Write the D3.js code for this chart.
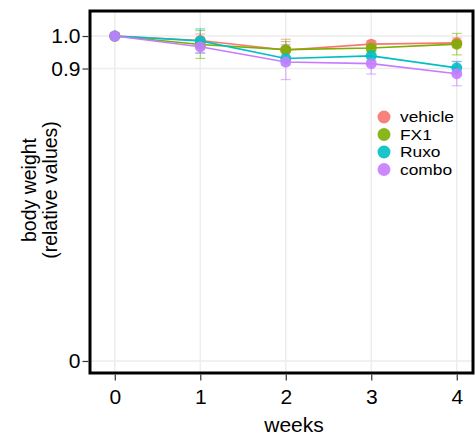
<!DOCTYPE html>
<html>
<head>
<meta charset="utf-8">
<script src="https://cdn.jsdelivr.net/npm/d3@7"></script>
<style>
  html, body { margin: 0; padding: 0; background: #fff; }
  svg { display: block; font-family: "Liberation Sans", Arial, sans-serif; }
</style>
</head>
<body>
<svg id="chart" width="476" height="439"></svg>
<script>
// Body weight over time per treatment group
const weeks = [0, 1, 2, 3, 4];
const groups = ["vehicle", "FX1", "Ruxo", "combo"];
const colors = ["#F8766D", "#7CAE00", "#00BFC4", "#C77CFF"];

const vehicleMean = [1.0, 0.986, 0.957, 0.975, 0.979];
const fx1Mean     = [1.0, 0.974, 0.958, 0.963, 0.975];
const ruxoMean    = [1.0, 0.985, 0.931, 0.939, 0.902];
const comboMean   = [1.0, 0.967, 0.920, 0.915, 0.884];

const vehicleErr = [0, 0.02, 0.033, 0.01, 0.015];
const fx1Err     = [0, 0.043, 0.025, 0.01, 0.033];
const ruxoErr    = [0, 0.037, 0.02, 0.015, 0.02];
const comboErr   = [0, 0.02, 0.054, 0.032, 0.037];

const yTicks = [0, 0.9, 1.0];
const yTickLabels = ["0", "0.9", "1.0"];

const means = [vehicleMean, fx1Mean, ruxoMean, comboMean];
const errs = [vehicleErr, fx1Err, ruxoErr, comboErr];

const series = groups.map((g, i) => ({
  name: g,
  color: colors[i],
  values: weeks.map((w, j) => ({ week: w, mean: means[i][j], err: errs[i][j] }))
}));

const svg = d3.select("#chart");
const panel = { left: 90, right: 473, top: 11, bottom: 373 };

const x = d3.scaleLinear().domain([-0.29, 4.19]).range([panel.left, panel.right]);
const y = d3.scaleLinear().domain([-0.037, 1.077]).range([panel.bottom, panel.top]);

// grid lines
const grid = svg.append("g");
grid.selectAll("line.vx").data(weeks).join("line")
  .attr("x1", d => x(d)).attr("x2", d => x(d))
  .attr("y1", panel.top).attr("y2", panel.bottom)
  .attr("stroke", "#ededed").attr("stroke-width", 1.5);
grid.selectAll("line.hy").data(yTicks).join("line")
  .attr("x1", panel.left).attr("x2", panel.right)
  .attr("y1", d => y(d)).attr("y2", d => y(d))
  .attr("stroke", "#ededed").attr("stroke-width", 1.5);

// error bars
const errG = svg.append("g");
series.forEach(s => {
  const g = errG.append("g").attr("stroke", s.color).attr("stroke-opacity", 0.55).attr("stroke-width", 1.2);
  s.values.filter(d => d.err > 0).forEach(d => {
    g.append("line").attr("x1", x(d.week)).attr("x2", x(d.week))
      .attr("y1", y(d.mean - d.err)).attr("y2", y(d.mean + d.err));
    [d.mean - d.err, d.mean + d.err].forEach(v => {
      g.append("line").attr("x1", x(d.week) - 5).attr("x2", x(d.week) + 5)
        .attr("y1", y(v)).attr("y2", y(v));
    });
  });
});

// lines
const line = d3.line().x(d => x(d.week)).y(d => y(d.mean));
svg.append("g").selectAll("path").data(series).join("path")
  .attr("d", s => line(s.values))
  .attr("fill", "none")
  .attr("stroke", s => s.color)
  .attr("stroke-width", 1.6);

// points
svg.append("g").selectAll("g").data(series).join("g")
  .attr("fill", s => s.color)
  .selectAll("circle").data(s => s.values).join("circle")
  .attr("cx", d => x(d.week)).attr("cy", d => y(d.mean)).attr("r", 5.5)
  .attr("fill-opacity", 0.9);

// panel frame
svg.append("rect")
  .attr("x", panel.left).attr("y", panel.top)
  .attr("width", panel.right - panel.left).attr("height", panel.bottom - panel.top)
  .attr("fill", "none").attr("stroke", "#000").attr("stroke-width", 3);

// axes
const xAxis = d3.axisBottom(x).tickValues(weeks).tickFormat(d3.format("d")).tickSize(6).tickPadding(9);
const xg = svg.append("g").attr("transform", `translate(0,${panel.bottom + 1.5})`).call(xAxis);
xg.select(".domain").remove();
xg.selectAll(".tick line").attr("stroke", "#333").attr("stroke-width", 1.2);
xg.selectAll(".tick text").attr("font-size", 21).attr("fill", "#000")
  .attr("font-family", "Liberation Sans, Arial, sans-serif");

const yAxis = d3.axisLeft(y).tickValues(yTicks).tickFormat((d, i) => yTickLabels[i]).tickSize(6).tickPadding(2);
const yg = svg.append("g").attr("transform", `translate(${panel.left - 1.5},0)`).call(yAxis);
yg.select(".domain").remove();
yg.selectAll(".tick line").attr("stroke", "#333").attr("stroke-width", 1.2);
yg.selectAll(".tick text").attr("font-size", 21).attr("fill", "#000")
  .attr("font-family", "Liberation Sans, Arial, sans-serif");

// axis titles
svg.append("text").attr("x", 294).attr("y", 432)
  .attr("text-anchor", "middle").attr("font-size", 21).text("weeks");
const yt = svg.append("text")
  .attr("transform", `translate(0,190) rotate(-90)`)
  .attr("text-anchor", "middle").attr("font-size", 19.5);
yt.append("tspan").attr("x", 0).attr("y", 36).text("body weight");
yt.append("tspan").attr("x", 0).attr("y", 57).text("(relative values)");

// legend
const legend = svg.append("g").attr("transform", "translate(384,117)");
const items = legend.selectAll("g").data(series).join("g")
  .attr("transform", (d, i) => `translate(0,${i * 17.5})`);
items.append("circle").attr("r", 6.5).attr("fill", d => d.color).attr("fill-opacity", 0.9);
items.append("text").attr("x", 16).attr("y", 0).attr("dy", "0.34em")
  .attr("font-size", 15.5).attr("transform", "scale(1.12,1)").attr("transform-origin", "16 0")
  .text(d => d.name);
</script>
</body>
</html>
